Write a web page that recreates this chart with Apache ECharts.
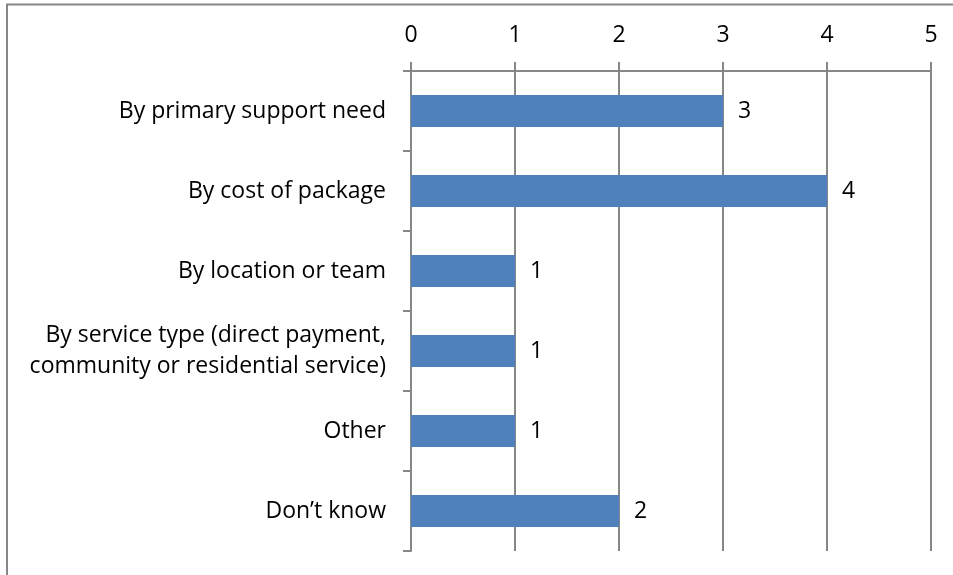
<!DOCTYPE html>
<html>
<head>
<meta charset="utf-8">
<style>
  html, body { margin: 0; padding: 0; background: #ffffff; }
  #chart { width: 953px; height: 575px; }
</style>
<script src="https://cdn.jsdelivr.net/npm/echarts@6/dist/echarts.min.js"></script>
</head>
<body>
<div id="chart"></div>
<script>
// How packages are grouped: number of responses per answer
const categories = [
  'By primary support need',
  'By cost of package',
  'By location or team',
  'By service type (direct payment,\ncommunity or residential service)',
  'Other',
  'Don\u2019t know'
];
const responses = [3, 4, 1, 1, 1, 2];
const axisTicks = [0, 1, 2, 3, 4, 5];

const FONT = '"Open Sans", "Noto Sans", sans-serif';
const FONT_SIZE = 23;
const GRAY = '#878787';
const BAR = '#4F81BD';

const chart = echarts.init(document.getElementById('chart'), null, { renderer: 'canvas' });

chart.setOption({
  backgroundColor: '#ffffff',
  animation: false,
  graphic: [
    // frame lines along the top and left edges
    { type: 'line', shape: { x1: 6, y1: 4.5, x2: 953, y2: 4.5 }, style: { stroke: GRAY, lineWidth: 2 } },
    { type: 'line', shape: { x1: 7, y1: 4, x2: 7, y2: 575 }, style: { stroke: GRAY, lineWidth: 2 } }
  ],
  grid: { left: 411, right: 22, top: 71, bottom: 24, containLabel: false },
  xAxis: {
    type: 'value',
    position: 'top',
    min: axisTicks[0],
    max: axisTicks[axisTicks.length - 1],
    interval: 1,
    axisLine: { show: true, lineStyle: { color: GRAY, width: 2 } },
    axisTick: { show: true, inside: false, length: 9, lineStyle: { color: GRAY, width: 2 } },
    axisLabel: { margin: 24, fontFamily: FONT, fontSize: FONT_SIZE, color: '#000000' },
    splitLine: { show: true, lineStyle: { color: GRAY, width: 2 } }
  },
  yAxis: {
    type: 'category',
    inverse: true,
    data: categories,
    axisLine: { show: true, lineStyle: { color: GRAY, width: 2 } },
    axisTick: { show: true, inside: false, length: 8, lineStyle: { color: GRAY, width: 2 } },
    axisLabel: { margin: 25, fontFamily: FONT, fontSize: FONT_SIZE, color: '#000000', lineHeight: 31, align: 'right' },
    splitLine: { show: false }
  },
  series: [{
    type: 'bar',
    data: responses,
    barWidth: 32,
    itemStyle: { color: BAR },
    label: {
      show: true,
      position: 'right',
      distance: 15,
      fontFamily: FONT,
      fontSize: FONT_SIZE,
      color: '#000000'
    }
  }]
});
</script>
</body>
</html>
